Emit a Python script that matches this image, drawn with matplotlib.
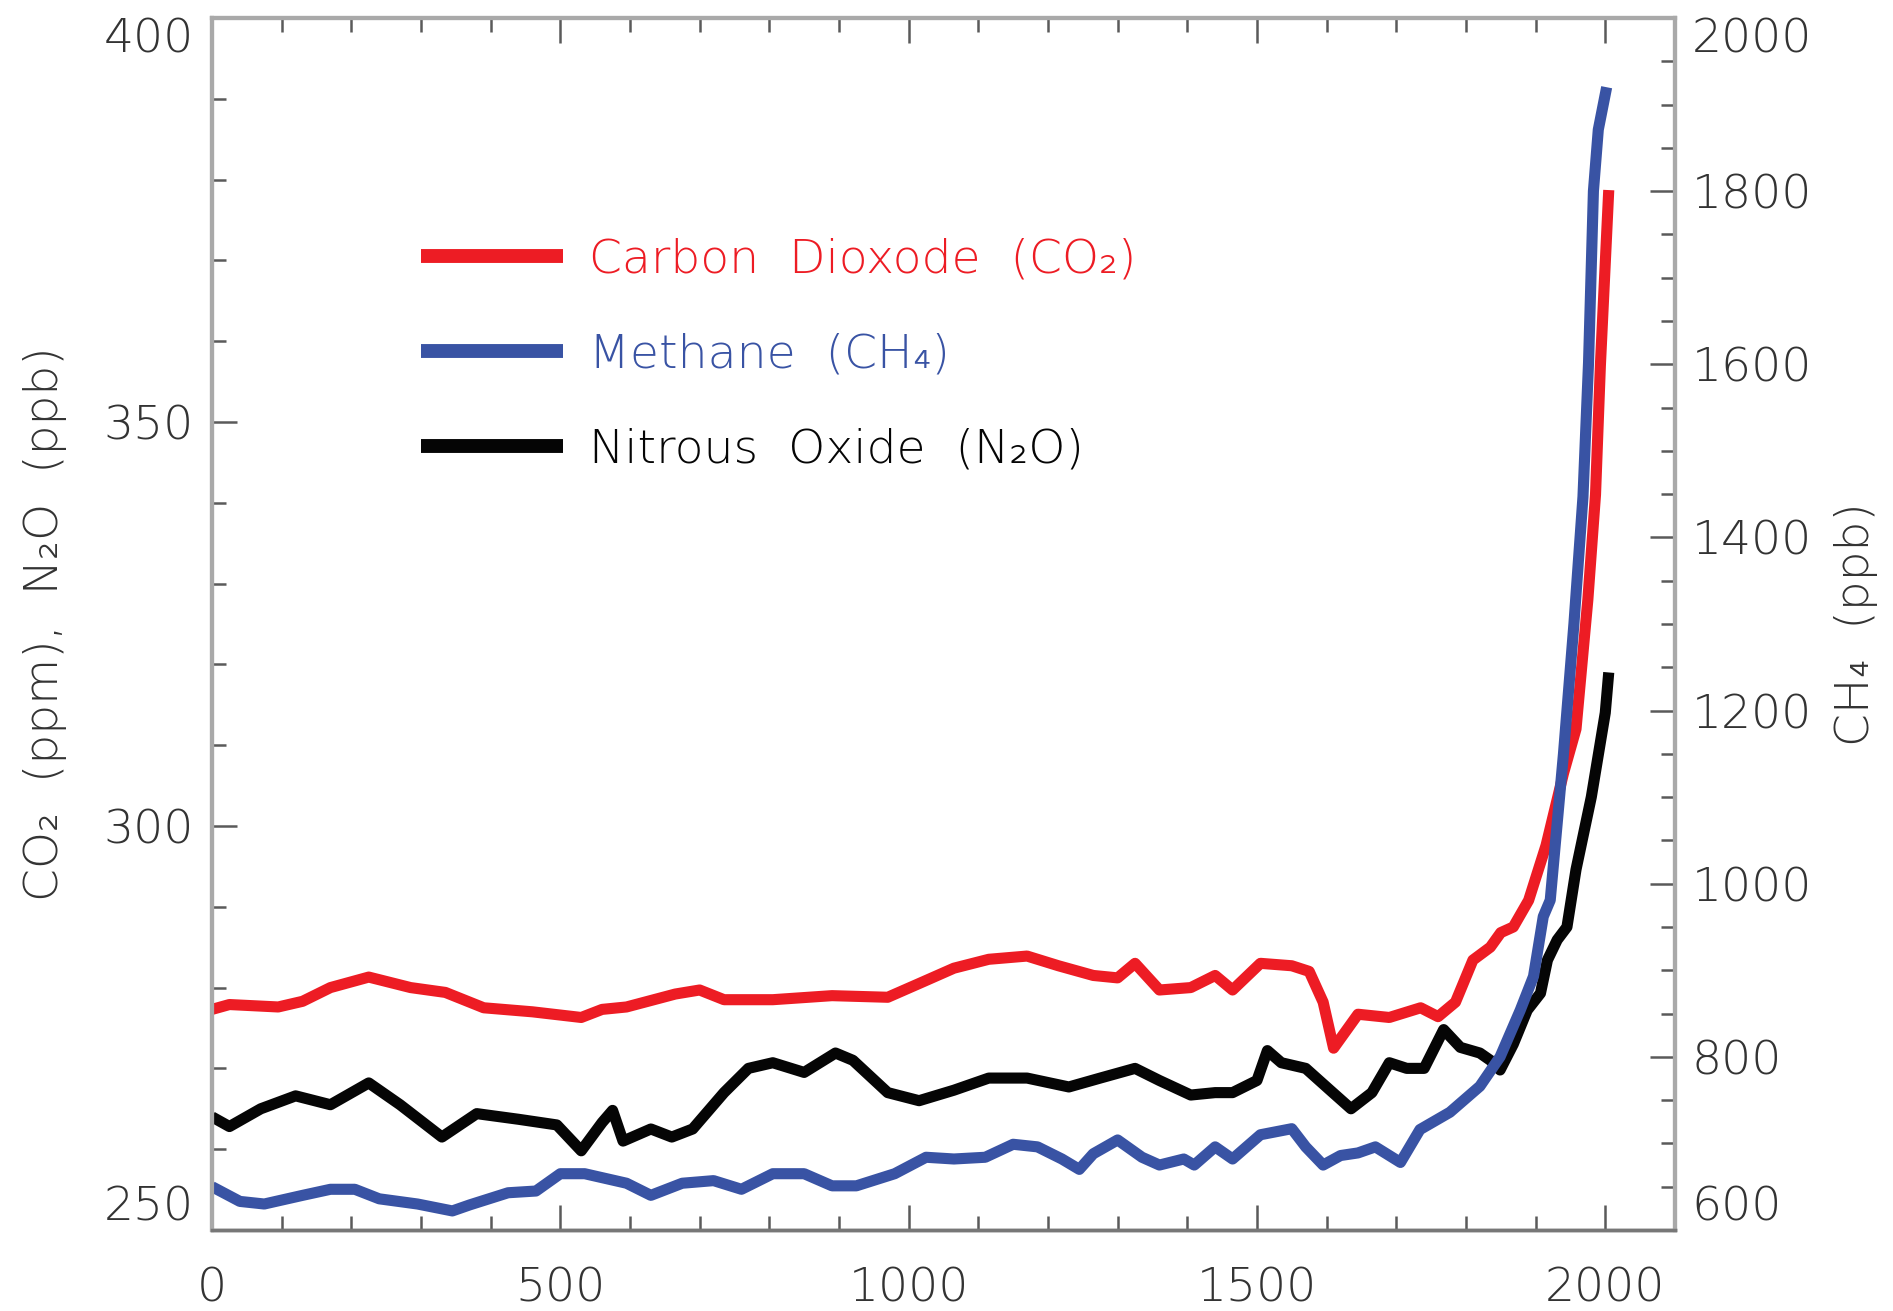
import matplotlib
matplotlib.use('Agg')
import matplotlib.pyplot as plt
from matplotlib.ticker import MultipleLocator

# Carbon dioxide, ppm
co2_years = [0, 25, 95, 130, 170, 225, 285, 335, 390, 460, 530, 560, 595, 665,
             700, 735, 805, 890, 970, 1015, 1065, 1115, 1170, 1215, 1265, 1300,
             1325, 1360, 1405, 1440, 1465, 1505, 1550, 1575, 1595, 1610, 1645,
             1690, 1735, 1760, 1785, 1810, 1835, 1850, 1868, 1890, 1915, 1940,
             1958, 1975, 1986, 1993, 2005]
co2_ppm = [277.3, 277.9, 277.6, 278.3, 280.0, 281.3, 280.0, 279.4, 277.5, 277.0,
           276.3, 277.3, 277.6, 279.2, 279.7, 278.5, 278.5, 279.0, 278.8, 280.5,
           282.4, 283.5, 283.9, 282.7, 281.5, 281.2, 283.0, 279.7, 280.0, 281.5,
           279.7, 283.0, 282.7, 282.0, 278.2, 272.5, 276.7, 276.3, 277.5, 276.4,
           278.2, 283.4, 285.0, 286.8, 287.5, 290.8, 297.6, 306.5, 312.0, 328.0,
           341.0, 357.0, 378.7]

# Nitrous oxide, ppb
n2o_years = [0, 25, 70, 120, 170, 225, 270, 330, 380, 440, 495, 530, 560, 575,
             590, 630, 660, 690, 735, 770, 805, 850, 895, 920, 970, 1015, 1065,
             1115, 1170, 1230, 1275, 1325, 1360, 1405, 1440, 1465, 1500, 1515,
             1535, 1570, 1605, 1635, 1665, 1690, 1715, 1740, 1768, 1792, 1820,
             1835, 1849, 1868, 1888, 1907, 1917, 1931, 1945, 1958, 1980, 2000,
             2005]
n2o_ppb = [264.0, 262.8, 265.0, 266.6, 265.5, 268.2, 265.5, 261.5, 264.4, 263.7,
           263.0, 259.8, 263.3, 264.8, 261.0, 262.5, 261.5, 262.5, 267.0, 270.0,
           270.7, 269.5, 271.9, 271.0, 267.0, 266.0, 267.3, 268.8, 268.8, 267.7,
           268.8, 270.0, 268.5, 266.7, 267.0, 267.0, 268.5, 272.2, 270.7, 270.0,
           267.3, 265.0, 267.0, 270.7, 270.0, 270.0, 274.8, 272.6, 271.9, 271.0,
           269.8, 273.0, 277.2, 279.3, 283.4, 285.9, 287.5, 294.6, 303.6, 314.0,
           319.0]

# Methane, ppb
ch4_years = [0, 40, 75, 130, 170, 205, 240, 295, 345, 370, 425, 465, 500, 535,
             595, 630, 675, 720, 760, 805, 850, 890, 925, 980, 1025, 1065, 1110,
             1150, 1185, 1220, 1245, 1265, 1300, 1335, 1360, 1395, 1410, 1440,
             1465, 1505, 1550, 1570, 1595, 1620, 1645, 1670, 1706, 1734, 1777,
             1820, 1849, 1878, 1897, 1911, 1921, 1940, 1955, 1968, 1976, 1983,
             1990, 2002]
ch4_ppb = [650, 633, 630, 640, 647, 647, 636, 630, 622, 629, 643, 645, 665, 665,
           654, 640, 654, 657, 647, 665, 665, 651, 651, 665, 684, 682, 684, 699,
           696, 682, 670, 688, 704, 684, 675, 682, 675, 696, 682, 710, 717, 696,
           675, 686, 689, 696, 678, 716, 736, 766, 800, 854, 893, 962, 981, 1150,
           1300, 1447, 1602, 1800, 1871, 1920]

left_ticks = [250, 300, 350, 400]
right_ticks = [600, 800, 1000, 1200, 1400, 1600, 1800, 2000]
x_ticks = [0, 500, 1000, 1500, 2000]

RED = '#ed1c24'
BLUE = '#3953a4'
BLACK = '#050505'
SPINE = '#a9a9a9'
TEXT = '#333333'
FS = 34

plt.rcParams['font.family'] = ['DejaVu Sans']
plt.rcParams['font.weight'] = 'light'
plt.rcParams['axes.labelweight'] = 'light'

fig = plt.figure(figsize=(18.93, 13.11), dpi=100)
ax = fig.add_axes([0.112, 0.0618, 0.7728, 0.9245])
ax2 = ax.twinx()

line_kw = dict(lw=8, solid_joinstyle='round', solid_capstyle='butt')
l_co2, = ax.plot(co2_years, co2_ppm, color=RED,
                 label='Carbon  Dioxode  (CO₂)', **line_kw)
l_n2o, = ax.plot(n2o_years, n2o_ppb, color=BLACK,
                 label='Nitrous  Oxide  (N₂O)', **line_kw)
l_ch4, = ax2.plot(ch4_years, ch4_ppb, color=BLUE,
                  label='Methane  (CH₄)', **line_kw)

ax.set_xlim(0, 2100)
ax.set_ylim(250, 400)
ax2.set_ylim(600, 2000)

ax.set_xticks(x_ticks)
ax.xaxis.set_minor_locator(MultipleLocator(100))
ax.set_yticks(left_ticks)
ax.yaxis.set_minor_locator(MultipleLocator(10))
ax2.set_yticks(right_ticks)
ax2.yaxis.set_minor_locator(MultipleLocator(50))

tick_kw = dict(direction='in', color='#5a5a5a', width=1.8, labelsize=FS,
               labelcolor=TEXT)
ax.tick_params(axis='x', which='both', top=True, pad=26, **tick_kw)
ax.tick_params(axis='y', which='both', pad=13, **tick_kw)
ax2.tick_params(axis='y', which='both', pad=12, **tick_kw)
for a in (ax, ax2):
    a.tick_params(which='major', length=18)
    a.tick_params(which='minor', length=10)
    for side in ('left', 'right', 'top'):
        a.spines[side].set_color(SPINE)
        a.spines[side].set_linewidth(3)
    a.spines['bottom'].set_color('#777777')
    a.spines['bottom'].set_linewidth(2.5)

# end labels sit inside the axis range
ylab = ax.get_yticklabels()
ylab[0].set_va('bottom')
ylab[-1].set_va('top')
ylab2 = ax2.get_yticklabels()
ylab2[0].set_va('bottom')
ylab2[-1].set_va('top')

ax.set_ylabel('CO₂  (ppm),  N₂O  (ppb)', fontsize=FS, color=TEXT,
              fontweight='light', labelpad=26)
ax2.set_ylabel('CH₄  (ppb)', fontsize=FS, color=TEXT,
               fontweight='light', labelpad=16)

leg = ax2.legend(handles=[l_co2, l_ch4, l_n2o], loc='upper left',
                 bbox_to_anchor=(0.143, 0.819), frameon=False, fontsize=FS,
                 handlelength=3.0, handletextpad=0.55, labelspacing=1.08,
                 borderpad=0, borderaxespad=0, labelcolor='linecolor')
for h in leg.get_lines():
    h.set_linewidth(10)

fig.savefig('out.png', dpi=100)
